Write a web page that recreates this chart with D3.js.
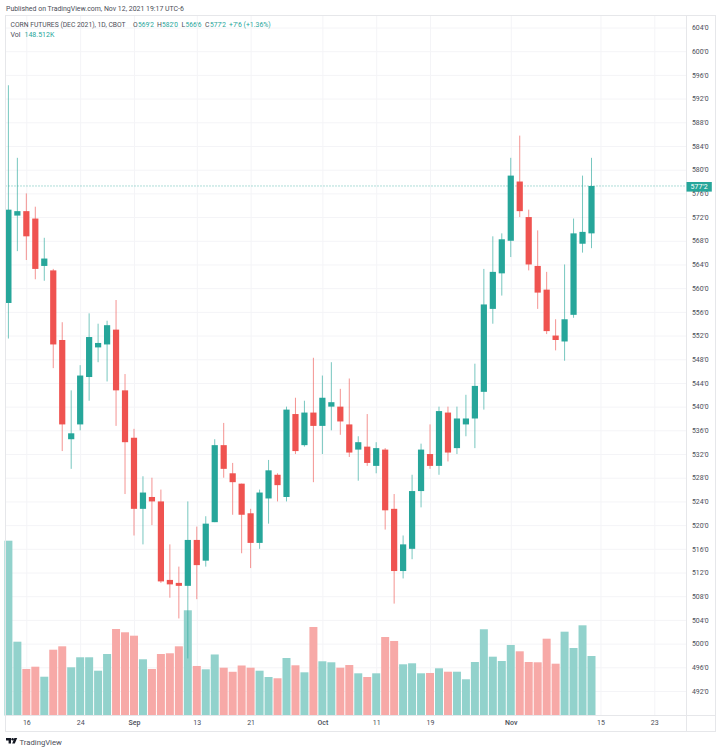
<!DOCTYPE html>
<html><head><meta charset="utf-8">
<script src="https://cdn.jsdelivr.net/npm/d3@7"></script>
<style>html,body{margin:0;padding:0;background:#fff}svg{display:block}text{font-family:Roboto,"Open Sans",sans-serif}</style>
</head><body><svg id="c" width="720" height="752"></svg>
<script>
const opens=[557.5,572.25,573,571.75,563.75,563,551.25,534.5,537,545,550,550.5,553,542.75,534.75,522.75,524.75,524,510.75,510.25,509.75,517.5,514,520.5,533.5,528.75,527,522,517,524.5,528.5,524.75,538.75,533.5,539,536.75,540,540,537,532.75,533.25,530,532.75,522.75,512.25,516,525.75,532,530,539,533,537,538,542.5,556.5,562.5,568,578,572,563.75,559.75,552,551,555.5,567.5,569.25];
const closes=[573.25,573,568.75,563.25,565,550.5,537,535.5,545.25,551.75,550.75,553.75,542.75,534,522.75,525.5,524,510.5,510,509.75,517.5,513.25,520.25,533.5,529.5,527.25,521.75,517,525.5,529.25,526.75,539.5,532.5,539,536.75,541.5,540.75,537.5,532.25,534,530.5,533,522.5,512.25,516.75,525.75,532.75,530,539.25,532.25,538,538,543.5,557.25,562.75,568.25,579,573,564,559.25,552.75,551.25,554.75,569.25,569.5,577.25];
const highs=[594.25,582,576,573.75,568.5,563.25,554.25,542.75,547,555.75,554,554.5,558,545.5,536.25,528.25,528,526,516.75,513,524,519.75,521.5,534.5,537.25,530.5,527,522.75,526,531,528.75,540,541.5,541,548.25,545.25,547.5,543,544.75,535,538.75,534,533,525.25,518.25,528.5,533.75,537,540,540,540,542,547.25,563.25,568.75,569.25,582,585.75,573.25,569.75,562.75,554.75,564,571.75,579,582];
const lows=[551.5,566.25,564.75,561.5,561.25,546.5,532.5,529.5,536,541,547.5,544.25,536.75,525.25,518.25,516.75,520,510.25,507.75,504.25,497.5,507.5,513,520.5,528,521.75,515.25,512.75,516,520.25,524,524,532,533.25,527.25,532,536,535.25,531.5,527.5,530,528.75,519.25,506.75,511,514.25,523,529.5,528.5,530.75,532,535,533,539.5,554,558.75,565.25,572,563,556.5,552.25,549.5,547.75,555,566,566.75];
const volumesK=[436.3,184.2,116.1,121.8,96.8,164.2,172.7,120.3,145.3,145.3,111.8,153.5,215.9,207.7,199.2,140.3,116.1,153.5,155.3,172.7,262.6,123.6,115.3,152.3,119.3,109.1,124.8,119.3,111.8,96.1,92.9,143.5,125.3,107.8,220.9,135.3,132.8,119.3,126,105.3,96.1,105.3,195.9,186,127.8,130.3,105.3,106.1,117.8,109.3,109.3,90.4,133.5,215.2,146.8,136,176,160.2,133.5,132.8,191.7,129.3,209.2,168.5,225.1,148.5];
const timeTickIndex=[2,8,14,21,27,35,41,47,56,66,72];
const timeTickLabels=["16","24","Sep","13","21","Oct","11","19","Nov","15","23"];
const priceTicks=[604,600,596,592,588,584,580,576,572,568,564,560,556,552,548,544,540,536,532,528,524,520,516,512,508,504,500,496,492];
const lastPrice=577.25;
const lastPriceLabel="577'2";
const headerText="Published on TradingView.com, Nov 12, 2021 19:17 UTC-6";
const titleText="CORN FUTURES (DEC 2021), 1D, CBOT";
const ohlcLetters=["O","H","L","C"];
const ohlcValues=["569'2","582'0","566'6","577'2"];
const changeText="+7'6 (+1.36%)";
const volName="Vol";
const volValue="148.512K";
const brand="TradingView";

const UP="#26a69a",DOWN="#ef5350",UPV="#92d2cc",DOWNV="#f7a9a7",TXT="#4a4d57",GRID="#f4f4f7",FRAME="#e6e7ea";
const L=5.5,T=15.5,R=715.5,B=731.5,AX=686.5,TB=715.5;
const idx=d3.range(opens.length);
const svg=d3.select("#c");
const x=d3.scaleLinear().domain([0,65]).range([8.4,591.5]);
const y=d3.scaleLinear().domain([492,604]).range([691,27.5]);
const yv=d3.scaleLinear().domain([0,148.5]).range([715.5,656]);

// grid
const gy=svg.append("g").attr("transform",`translate(${L},0)`)
 .call(d3.axisRight(y).tickValues(priceTicks).tickSize(AX-L).tickFormat(""));
gy.select(".domain").remove();
gy.selectAll("line").attr("stroke",GRID);
const gx=svg.append("g").attr("transform",`translate(0,${T})`)
 .call(d3.axisBottom(x).tickValues(timeTickIndex).tickSize(TB-T).tickFormat(""));
gx.select(".domain").remove();
gx.selectAll("line").attr("stroke",GRID);

// volume
svg.append("g").selectAll("rect").data(idx).join("rect")
 .attr("x",i=>x(i)-4).attr("width",8)
 .attr("y",i=>yv(volumesK[i])).attr("height",i=>yv(0)-yv(volumesK[i]))
 .attr("fill",i=>closes[i]>=opens[i]?UPV:DOWNV);

// last price line
svg.append("line").attr("x1",L).attr("x2",AX).attr("y1",y(lastPrice)).attr("y2",y(lastPrice))
 .attr("stroke",UP).attr("stroke-width",1).attr("stroke-dasharray","1 2").attr("opacity",.75);

// candles
const col=i=>closes[i]>=opens[i]?UP:DOWN;
svg.append("g").selectAll("line").data(idx).join("line")
 .attr("x1",i=>x(i)).attr("x2",i=>x(i)).attr("y1",i=>y(highs[i])).attr("y2",i=>y(lows[i]))
 .attr("stroke",col).attr("stroke-width",1).attr("opacity",.62);
svg.append("g").selectAll("rect").data(idx).join("rect")
 .attr("x",i=>x(i)-3.1).attr("width",6.2)
 .attr("y",i=>y(Math.max(opens[i],closes[i])))
 .attr("height",i=>Math.max(1.4,Math.abs(y(opens[i])-y(closes[i]))))
 .attr("fill",col);

// frame
svg.append("rect").attr("x",L).attr("y",T).attr("width",R-L).attr("height",B-T).attr("fill","none").attr("stroke",FRAME);
svg.append("line").attr("x1",AX).attr("x2",AX).attr("y1",T).attr("y2",B).attr("stroke",FRAME);
svg.append("line").attr("x1",L).attr("x2",R).attr("y1",TB).attr("y2",TB).attr("stroke",FRAME);

// axes
const fmt=p=>p+"'0";
const ay=svg.append("g").attr("transform",`translate(${AX},0)`)
 .call(d3.axisRight(y).tickValues(priceTicks).tickSize(0).tickPadding(5.5).tickFormat(fmt));
ay.select(".domain").remove();
ay.selectAll("text").attr("fill",TXT).style("font-size","6.9px").style("font-family","Roboto");
const ax=svg.append("g").attr("transform",`translate(0,${TB})`)
 .call(d3.axisBottom(x).tickValues(timeTickIndex).tickSize(0).tickPadding(5).tickFormat((d,i)=>timeTickLabels[i]));
ax.select(".domain").remove();
ax.selectAll("text").attr("fill",TXT).style("font-size","7px").style("font-family","Roboto")
 .attr("font-weight",(d,i)=>/[A-Z]/.test(timeTickLabels[i])?500:400);

// last price tag
svg.append("rect").attr("x",AX).attr("y",182).attr("width",25.3).attr("height",9.6).attr("fill",UP);
svg.append("text").attr("x",AX+12.6).attr("y",189.2).attr("text-anchor","middle").attr("fill","#fff").attr("font-size",7).text(lastPriceLabel);

// texts
const t=(s,px,py,c=TXT,fs=7)=>svg.append("text").attr("x",px).attr("y",py).attr("fill",c).attr("font-size",fs).text(s);
t(headerText,6,11,TXT,6.95);
t(titleText,10.5,26.5,TXT,6.75);
const ox=[133,157,181.5,205];
ohlcLetters.forEach((l,i)=>{t(l,ox[i],26.5,TXT,6.8);t(ohlcValues[i],ox[i]+(l==="L"?4:5),26.5,UP,6.6)});
t(changeText,229,26.5,UP,6.9);
t(volName,10.5,36.5,TXT,7);
t(volValue,24.5,36.5,UP,7);

// logo
const lg=svg.append("g").attr("transform","translate(6,738)").attr("fill","#131722");
lg.append("path").attr("d","M0 0H5V5.6H2.6V2.4H0Z");
lg.append("circle").attr("cx",6.6).attr("cy",1.2).attr("r",1.2);
lg.append("path").attr("d","M8.4 0H11.2L8.8 5.6H6.2Z");
t(brand,19.5,745,"#4a4d57",7.7);
</script></body></html>
